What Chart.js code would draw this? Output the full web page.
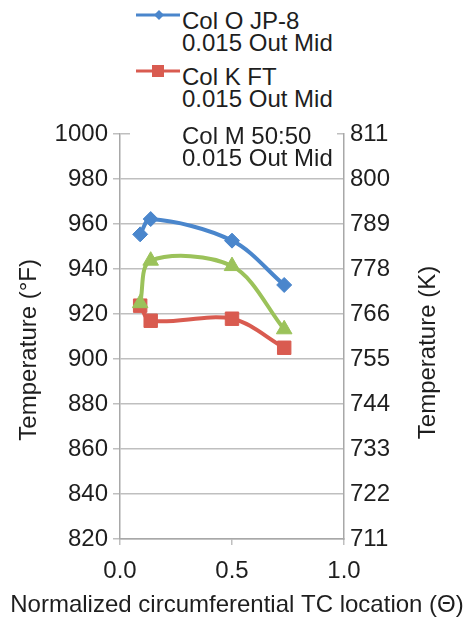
<!DOCTYPE html>
<html>
<head>
<meta charset="utf-8">
<script src="https://cdn.jsdelivr.net/npm/chart.js@4.4.1/dist/chart.umd.min.js"></script>
<style>
    body { margin: 0; background: #fff; }
    #wrap { position: relative; width: 466px; height: 618px; overflow: hidden; }
    #legend { position: absolute; left: 130px; top: 0; width: 207px; height: 170px; background: #fff;
              font-family: "Liberation Sans", Arial, sans-serif; font-size: 24px; color: #1e1e1e; }
    .entry { position: absolute; left: 0; width: 207px; }
    .entry svg { position: absolute; left: 6px; }
    .entry .txt { position: absolute; left: 52px; line-height: 21.5px; white-space: nowrap; }
</style>
</head>
<body>
<div id="wrap">
    <canvas id="chart" width="466" height="618"></canvas>
    <div id="legend"></div>
</div>
<script>
// ── Data ────────────────────────────────────────────────
const thetaPos = [0.09, 0.137, 0.5, 0.733];
const jp8Temps = [955.4, 962.2, 952.6, 932.9];
const ftTemps = [923.7, 917.0, 917.9, 905.0];
const blendTemps = [924.8, 943.7, 941.3, 913.2];

const seriesNames = ['Col O JP-8', 'Col K FT', 'Col M 50:50'];
const seriesSub = '0.015 Out Mid';
const kelvinLabels = ['711', '722', '733', '744', '755', '766', '778', '789', '800', '811'];

const FONT = '"Liberation Sans", Arial, sans-serif';
const TXT = '#1e1e1e';
const GRID = '#bfbfbf';
const AXIS = '#a8a8a8';

const BLUE = '#4a86cc', RED = '#d95b50', GREEN = '#9bc25a';

const pts = (ys) => ys.map((y, i) => ({ x: thetaPos[i], y }));

// axis titles drawn by hand: the right one reads bottom-to-top, and the x one is wider than the plot
const axisTitles = {
    id: 'axisTitles',
    afterDraw(chart) {
        const ctx = chart.ctx;
        const yK = chart.scales.yK;
        ctx.save();
        ctx.font = '24px ' + FONT;
        ctx.fillStyle = TXT;
        ctx.textAlign = 'center';
        ctx.textBaseline = 'middle';
        ctx.fillText('Normalized circumferential TC location (Θ)', 237, chart.scales.x.bottom - 13);
        ctx.translate(yK.right - 38, (yK.top + yK.bottom) / 2 + 16);
        ctx.rotate(-Math.PI / 2);
        ctx.fillText('Temperature (K)', 0, 0);
        ctx.restore();
    }
};

new Chart(document.getElementById('chart').getContext('2d'), {
    type: 'line',
    data: {
        datasets: [
            { label: seriesNames[0], data: pts(jp8Temps), borderColor: BLUE, backgroundColor: BLUE,
              pointStyle: 'rectRot', pointRadius: 7.5, order: 2 },
            { label: seriesNames[1], data: pts(ftTemps), borderColor: RED, backgroundColor: RED,
              pointStyle: 'rect', pointRadius: 9.5, order: 1 },
            { label: seriesNames[2], data: pts(blendTemps), borderColor: GREEN, backgroundColor: GREEN,
              pointStyle: 'triangle', pointRadius: 9, order: 0 }
        ]
    },
    options: {
        responsive: false,
        animation: false,
        devicePixelRatio: 1,
        layout: { padding: { top: 134, left: 0, right: 0, bottom: 0 } },
        elements: {
            line: { borderWidth: 4, tension: 0.33, fill: false },
            point: { borderWidth: 1, hoverRadius: 9 }
        },
        plugins: { legend: { display: false }, tooltip: { enabled: false } },
        scales: {
            x: {
                type: 'linear', min: 0, max: 1,
                ticks: { stepSize: 0.5, callback: v => v.toFixed(1), color: TXT, font: { family: FONT, size: 24 }, padding: 12, maxRotation: 0 },
                grid: { drawOnChartArea: false, tickLength: 6, color: GRID, lineWidth: 1.5 },
                border: { color: AXIS, width: 1.5 },
                afterFit: s => { s.height = 79; }
            },
            y: {
                position: 'left', min: 820, max: 1000,
                ticks: { stepSize: 20, callback: v => String(v), color: TXT, font: { family: FONT, size: 24 }, padding: 5 },
                grid: { color: GRID, lineWidth: 1.5, tickLength: 7 },
                border: { color: AXIS, width: 1.5 },
                title: { display: true, text: 'Temperature (°F)\u00a0\u00a0\u00a0\u00a0', color: TXT,
                         font: { family: FONT, size: 24 }, padding: { top: 15, bottom: 0 } },
                afterFit: s => { s.width = 120; }
            },
            yK: {
                position: 'right', min: 820, max: 1000,
                ticks: { stepSize: 20, color: TXT, font: { family: FONT, size: 24 }, padding: 6,
                         callback: (v, i) => kelvinLabels[i] },
                grid: { drawOnChartArea: false, drawTicks: false, color: GRID },
                border: { color: AXIS, width: 1.5 },
                afterFit: s => { s.width = 122; }
            }
        }
    },
    plugins: [axisTitles]
});

// ── Legend (overlaps the top of the plot, as in the original) ──
const legendTops = [10, 66, 125];
const legendSyms = [
    `<line x1="0" y1="6" x2="44" y2="6" stroke="${BLUE}" stroke-width="3"/><path d="M23 1 L28 6 L23 11 L18 6 Z" fill="${BLUE}"/>`,
    `<line x1="0" y1="6" x2="44" y2="6" stroke="${RED}" stroke-width="3"/><rect x="16" y="0" width="12" height="12" fill="${RED}"/>`,
    ''
];
const legend = document.getElementById('legend');
seriesNames.forEach((name, i) => {
    const e = document.createElement('div');
    e.className = 'entry';
    e.style.top = legendTops[i] + 'px';
    e.innerHTML = `<svg width="46" height="12" style="top:-1px">${legendSyms[i]}</svg>
        <div class="txt">${name}<br>${seriesSub}</div>`;
    legend.appendChild(e);
});
</script>
</body>
</html>
